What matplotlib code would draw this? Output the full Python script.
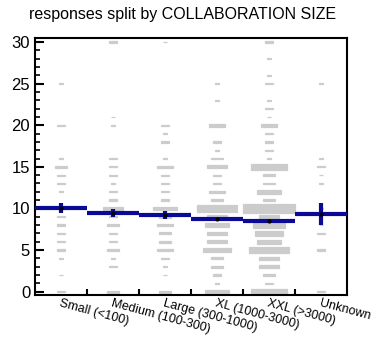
import matplotlib
matplotlib.use("Agg")
import matplotlib.pyplot as plt
from matplotlib.ticker import MultipleLocator

plt.rcParams['font.family'] = ['Liberation Sans', 'DejaVu Sans']

title = "responses split by COLLABORATION SIZE"
categories = ["Small (<100)", "Medium (100-300)", "Large (300-1000)",
              "XL (1000-3000)", "XXL (>3000)", "Unknown"]

# counts of responses per answer value (value: count)
small = {0: 2, 2: 1, 4: 1, 5: 2, 6: 2, 7: 2, 8: 2, 9: 2, 10: 3, 12: 1, 13: 2,
         14: 2, 15: 3, 16: 1, 20: 2, 25: 1}
medium = {0: 3, 3: 2, 4: 1, 5: 3, 6: 2, 7: 2, 8: 3, 9: 2, 10: 5, 11: 2, 12: 2,
          13: 1, 14: 2, 15: 2, 16: 2, 20: 1, 21: 1, 30: 2}
large = {0: 3, 2: 1, 3: 1, 4: 2, 5: 4, 6: 3, 7: 3, 8: 4, 9: 3, 10: 6, 11: 2,
         12: 2, 13: 2, 14: 2, 15: 4, 16: 1, 18: 2, 19: 1, 20: 2, 30: 1}
xl = {0: 6, 1: 1, 2: 2, 3: 3, 4: 3, 5: 7, 6: 5, 7: 5, 8: 6, 9: 5, 10: 10,
      11: 3, 12: 4, 13: 2, 14: 2, 15: 5, 16: 3, 17: 1, 18: 2, 20: 4, 23: 1, 25: 1}
xxl = {0: 9, 1: 2, 2: 3, 3: 5, 4: 5, 5: 10, 6: 6, 7: 7, 8: 8, 9: 5, 10: 13,
       11: 3, 12: 6, 13: 3, 14: 3, 15: 9, 16: 1, 17: 2, 18: 2, 19: 2, 20: 4,
       21: 1, 22: 2, 23: 1, 25: 2, 26: 1, 28: 1, 30: 2}
unknown = {0: 2, 5: 2, 7: 2, 8: 1, 10: 1, 13: 1, 14: 1, 15: 2, 16: 1, 25: 1}
counts = [small, medium, large, xl, xxl, unknown]

means = [10.08, 9.44, 9.24, 8.70, 8.52, 9.36]
errors = [0.62, 0.5, 0.45, 0.15, 0.12, 1.3]

max_count = 13
grey = '#cccccc'
blue = '#0a0a96'

fig = plt.figure(figsize=(3.9, 3.43), dpi=100)
ax = fig.add_axes([35/390, 1 - 295/343, 312/390, 257/343])

for i, cdict in enumerate(counts):
    vals = list(cdict.keys())
    sides = [cdict[v] / max_count for v in vals]
    ax.bar([i] * len(vals), sides, width=sides,
           bottom=[v - s / 2 for v, s in zip(vals, sides)],
           color=grey, edgecolor=grey, linewidth=0.9, zorder=1)

for i, (m, e) in enumerate(zip(means, errors)):
    ax.hlines(m, i - 0.5, i + 0.5, color=blue, lw=3, zorder=3)
    ax.vlines(i, m - e, m + e, color=blue, lw=3, zorder=3)
    ax.plot([i], [m], 'o', color='black', ms=2, zorder=4)

ax.set_xlim(-0.5, 5.5)
ax.set_ylim(-0.4, 30.48)

ax.yaxis.set_major_locator(MultipleLocator(5))
ax.yaxis.set_minor_locator(MultipleLocator(1))
ax.tick_params(axis='y', which='major', direction='in', length=6.5, width=1.5,
               labelsize=12, pad=3.5, right=False)
ax.tick_params(axis='y', which='minor', direction='in', length=3.6, width=1.2)

ax.set_xticks(range(len(categories)))
ax.set_xticklabels(categories, rotation=-15, ha='left', va='top',
                   rotation_mode='anchor', fontsize=9)
ax.set_xticks([i + 0.5 for i in range(len(categories) - 1)], minor=True)
ax.tick_params(axis='x', which='major', length=0, pad=2)
ax.tick_params(axis='x', which='minor', direction='in', length=4.5, width=1.5)

for sp in ax.spines.values():
    sp.set_linewidth(1.5)

fig.text(182.5/390, 1 - 15/343, title, ha='center', va='center', fontsize=11.5)

fig.savefig("out.png", dpi=100)
